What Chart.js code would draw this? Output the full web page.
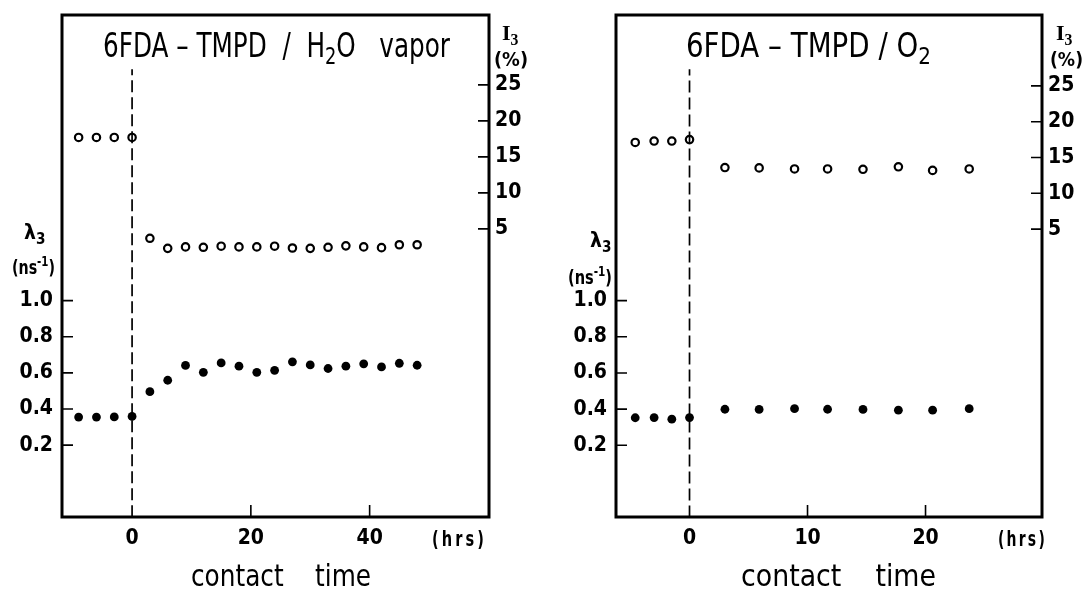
<!DOCTYPE html>
<html lang="en">
<head>
  <meta charset="UTF-8" />
  <title>6FDA-TMPD contact time</title>
  <script src="https://cdn.jsdelivr.net/npm/chart.js"></script>
  <style>
    html, body { margin: 0; padding: 0; background: #fff; }
    .wrap { position: relative; width: 1085px; height: 589px; }
    .panel { position: absolute; top: 0; height: 589px; }
    #leftPanel { left: 0; width: 545px; }
    #rightPanel { left: 545px; width: 540px; }
  </style>
</head>
<body>
  <div class="wrap">
    <div class="panel" id="leftPanel"><canvas id="h2oChart"></canvas></div>
    <div class="panel" id="rightPanel"><canvas id="o2Chart"></canvas></div>
  </div>

  <script>
    // H2O vapor panel
    const hoursH2O = [-9, -6, -3, 0, 3, 6, 9, 12, 15, 18, 21, 24, 27, 30, 33, 36, 39, 42, 45, 48];
    const lambdaH2O = [0.355, 0.355, 0.356, 0.359, 0.496, 0.559, 0.641, 0.603, 0.655, 0.637,
                       0.603, 0.614, 0.661, 0.644, 0.624, 0.637, 0.650, 0.633, 0.653, 0.642];
    const intensityH2O = [17.7, 17.7, 17.7, 17.7, 3.7, 2.3, 2.5, 2.45, 2.6, 2.5,
                          2.5, 2.6, 2.35, 2.3, 2.45, 2.65, 2.5, 2.4, 2.8, 2.8];
    const xTicksH2O = [0, 20, 40];

    // O2 panel
    const hoursO2 = [-4.6, -3, -1.5, 0, 3, 5.9, 8.9, 11.7, 14.7, 17.7, 20.6, 23.7];
    const lambdaO2 = [0.352, 0.353, 0.344, 0.353, 0.399, 0.398, 0.402, 0.399, 0.398, 0.394, 0.394, 0.402];
    const intensityO2 = [17.1, 17.3, 17.3, 17.5, 13.6, 13.55, 13.4, 13.4, 13.35, 13.7, 13.2, 13.4];
    const xTicksO2 = [0, 10, 20];

    const lambdaTicks = [0.2, 0.4, 0.6, 0.8, 1.0];
    const intensityTicks = [5, 10, 15, 20, 25];
    const zeroLine = [-0.2, 2.28]; // lambda extent of the dashed t = 0 marker

    const FONT = "'Liberation Sans Narrow', 'DejaVu Sans Condensed', sans-serif";
    const SERIF = "'Liberation Serif', 'DejaVu Serif', serif";

    // draws text made of parts [text, 'sub' | 'sup' | ''], squeezed to a given width
    function drawRich(ctx, t) {
      ctx.save();
      ctx.fillStyle = '#000';
      ctx.textAlign = 'left';
      ctx.textBaseline = 'alphabetic';
      ctx.letterSpacing = (t.spacing || 0) + 'px';
      const fontFor = m => `${t.weight || 'normal'} ${m ? t.size * 0.72 : t.size}px ${t.family || FONT}`;
      const widths = t.parts.map(([s, m]) => { ctx.font = fontFor(m); return ctx.measureText(s).width; });
      const total = widths.reduce((a, b) => a + b, 0);
      ctx.translate(t.x, t.y);
      if (t.width) ctx.scale(t.width / total, 1);
      let cx = 0;
      t.parts.forEach(([s, m], i) => {
        ctx.font = fontFor(m);
        const dy = m === 'sub' ? t.size * 0.22 : m === 'sup' ? -t.size * 0.4 : 0;
        ctx.fillText(s, cx, dy);
        cx += widths[i];
      });
      ctx.restore();
    }

    const framePlugin = {
      id: 'frame',
      afterDraw(chart, args, opts) {
        const { ctx, chartArea: a, scales } = chart;
        ctx.save();
        ctx.strokeStyle = '#000';
        ctx.lineWidth = 3;
        ctx.strokeRect(a.left, a.top, a.right - a.left, a.bottom - a.top);
        ctx.lineWidth = 1.6;
        ctx.beginPath();
        scales.y.ticks.forEach(t => {
          const py = scales.y.getPixelForValue(t.value);
          ctx.moveTo(a.left, py); ctx.lineTo(a.left + 11, py);
        });
        scales.y2.ticks.forEach(t => {
          const py = scales.y2.getPixelForValue(t.value);
          ctx.moveTo(a.right, py); ctx.lineTo(a.right - 11, py);
        });
        scales.x.ticks.forEach(t => {
          if (t.value === 0) return;
          const px = scales.x.getPixelForValue(t.value);
          ctx.moveTo(px, a.bottom); ctx.lineTo(px, a.bottom - 12);
        });
        ctx.stroke();
        ctx.restore();
        opts.texts.forEach(t => drawRich(ctx, t));
      }
    };

    function makePanel(id, p) {
      const tickFont = { family: FONT, size: 21, weight: 'bold' };
      new Chart(document.getElementById(id), {
        type: 'scatter',
        data: {
          datasets: [
            {
              label: 'lambda3',
              data: p.hours.map((h, i) => ({ x: h, y: p.lambda[i] })),
              yAxisID: 'y',
              pointRadius: 4.4,
              pointBackgroundColor: '#000',
              pointBorderWidth: 0,
              order: 1
            },
            {
              label: 'I3',
              data: p.hours.map((h, i) => ({ x: h, y: p.intensity[i] })),
              yAxisID: 'y2',
              pointRadius: 3.7,
              pointBackgroundColor: 'rgba(0,0,0,0)',
              pointBorderColor: '#000',
              pointBorderWidth: 2.2,
              order: 2
            },
            {
              type: 'line',
              label: 't = 0',
              data: zeroLine.map(v => ({ x: 0, y: v })),
              yAxisID: 'y',
              borderColor: '#000',
              borderWidth: 1.7,
              borderDash: [12, 5],
              pointRadius: 0,
              order: 3
            }
          ]
        },
        options: {
          responsive: true,
          maintainAspectRatio: false,
          animation: false,
          events: [],
          layout: { padding: { top: 15, left: 0, right: 0, bottom: 0 } },
          plugins: {
            legend: { display: false },
            tooltip: { enabled: false },
            frame: { texts: p.texts }
          },
          scales: {
            x: {
              type: 'linear',
              min: p.xMin,
              max: p.xMax,
              afterBuildTicks: s => { s.ticks = p.xTicks.map(v => ({ value: v })); },
              afterFit: s => { s.height = 72; s.paddingLeft = 0; s.paddingRight = 0; },
              grid: { display: false, drawTicks: false },
              border: { display: false },
              ticks: { font: tickFont, color: '#000', padding: 9, maxRotation: 0, autoSkip: false }
            },
            y: {
              position: 'left',
              min: p.yMin,
              max: p.yMax,
              afterBuildTicks: s => { s.ticks = lambdaTicks.map(v => ({ value: v })); },
              afterFit: s => { s.width = p.leftWidth; s.paddingTop = 0; s.paddingBottom = 0; },
              grid: { display: false, drawTicks: false },
              border: { display: false },
              ticks: { font: tickFont, color: '#000', padding: 9, autoSkip: false, callback: v => v.toFixed(1) }
            },
            y2: {
              position: 'right',
              min: p.y2Min,
              max: p.y2Max,
              afterBuildTicks: s => { s.ticks = intensityTicks.map(v => ({ value: v })); },
              afterFit: s => { s.width = p.rightWidth; s.paddingTop = 0; s.paddingBottom = 0; },
              grid: { display: false, drawTicks: false },
              border: { display: false },
              ticks: { font: tickFont, color: '#000', padding: 6, autoSkip: false }
            }
          }
        },
        plugins: [framePlugin]
      });
    }

    makePanel('h2oChart', {
      hours: hoursH2O, lambda: lambdaH2O, intensity: intensityH2O, xTicks: xTicksH2O,
      xMin: -11.8, xMax: 60.1, yMin: -0.198, yMax: 2.581, y2Min: -35.0, y2Max: 34.7,
      leftWidth: 62, rightWidth: 56,
      texts: [
        { parts: [['6FDA \u2013 TMPD  /  H', ''], ['2', 'sub'], ['O   vapor', '']], x: 103, y: 57, width: 347, size: 33 },
        { parts: [['contact    time', '']], x: 191, y: 586, width: 180, size: 31 },
        { parts: [['(hrs)', '']], x: 432, y: 546, width: 55, size: 21, spacing: 4, weight: 'bold' },
        { parts: [['\u03bb', ''], ['3', 'sub']], x: 24, y: 239, size: 21, weight: 'bold' },
        { parts: [['(ns', ''], ['-1', 'sup'], [')', '']], x: 12, y: 274, width: 43, size: 19, weight: 'bold' },
        { parts: [['I', ''], ['3', 'sub']], x: 502, y: 40, size: 22, family: SERIF, weight: 'bold' },
        { parts: [['(%)', '']], x: 494, y: 66, width: 34, size: 20, weight: 'bold' }
      ]
    });

    makePanel('o2Chart', {
      hours: hoursO2, lambda: lambdaO2, intensity: intensityO2, xTicks: xTicksO2,
      xMin: -6.23, xMax: 29.87, yMin: -0.197, yMax: 2.58, y2Min: -35.2, y2Max: 34.9,
      leftWidth: 71, rightWidth: 43,
      texts: [
        { parts: [['6FDA \u2013 TMPD / O', ''], ['2', 'sub']], x: 141, y: 57, width: 245, size: 33 },
        { parts: [['contact    time', '']], x: 196, y: 586, width: 195, size: 31 },
        { parts: [['(hrs)', '']], x: 453, y: 546, width: 49, size: 21, spacing: 3, weight: 'bold' },
        { parts: [['\u03bb', ''], ['3', 'sub']], x: 45, y: 247, size: 21, weight: 'bold' },
        { parts: [['(ns', ''], ['-1', 'sup'], [')', '']], x: 23, y: 284, width: 44, size: 19, weight: 'bold' },
        { parts: [['I', ''], ['3', 'sub']], x: 511, y: 40, size: 22, family: SERIF, weight: 'bold' },
        { parts: [['(%)', '']], x: 505, y: 66, width: 33, size: 20, weight: 'bold' }
      ]
    });
  </script>
</body>
</html>
